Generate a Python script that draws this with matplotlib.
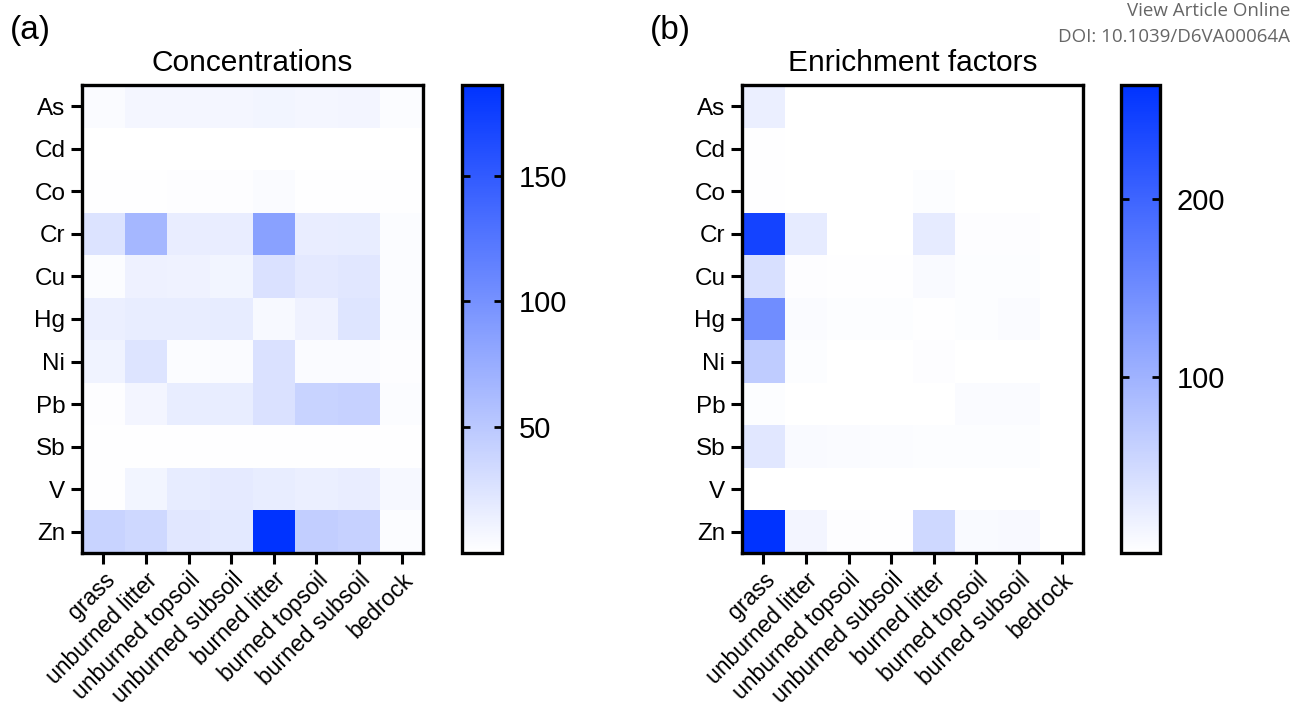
import numpy as np
import matplotlib
matplotlib.use("Agg")
import matplotlib.pyplot as plt
from matplotlib.colors import LinearSegmentedColormap

plt.rcParams['font.family'] = ['Liberation Sans', 'DejaVu Sans']

elements = ["As", "Cd", "Co", "Cr", "Cu", "Hg", "Ni", "Pb", "Sb", "V", "Zn"]
compartments = ["grass", "unburned litter", "unburned topsoil", "unburned subsoil",
                "burned litter", "burned topsoil", "burned subsoil", "bedrock"]

# rows follow `elements`, columns follow `compartments`
concentrations = [
    [4, 8, 8, 8, 10, 8, 9, 3],
    [0.5, 0.5, 0.5, 0.5, 0.5, 0.5, 0.5, 0.5],
    [1, 1, 2, 2, 4, 1, 1, 1],
    [26, 66, 16, 16, 86, 16, 17, 3],
    [3, 13, 12, 10, 27, 20, 22, 3],
    [15, 17, 17, 18, 6, 12, 24, 3],
    [11, 25, 3, 4, 27, 4, 4, 2],
    [2, 9, 17, 17, 27, 40, 42, 3],
    [1, 1, 1, 1, 1, 1, 1, 1],
    [1, 10, 18, 19, 17, 15, 16, 7],
    [40, 36, 22, 21, 186, 45, 42, 3],
]

enrichment = [
    [22, 1, 1, 1, 1, 1, 1, 1],
    [3, 1, 1, 1, 1, 1, 1, 1],
    [3, 1, 1, 1, 5, 1, 1, 1],
    [243, 27, 2, 2, 27, 4, 4, 1],
    [42, 4, 3, 3, 8, 5, 5, 1],
    [148, 7, 5, 5, 3, 5, 7, 1],
    [67, 5, 1, 2, 4, 1, 1, 1],
    [5, 2, 2, 2, 2, 7, 7, 1],
    [32, 8, 7, 6, 5, 5, 5, 1],
    [1, 1, 1, 1, 1, 1, 1, 1],
    [264, 14, 4, 3, 52, 8, 9, 1],
]

conc_ticks = [50, 100, 150]
ef_ticks = [100, 200]

cmap = LinearSegmentedColormap.from_list("white_blue", ["#ffffff", "#0033ff"])

W, H = 1295, 713
fig = plt.figure(figsize=(W / 100, H / 100), dpi=100)


def box(x0, y0, x1, y1):
    return [x0 / W, 1 - y1 / H, (x1 - x0) / W, (y1 - y0) / H]


def panel(ax_box, cb_box, data, vmin, ticks, title, tag, tag_x):
    ax = fig.add_axes(box(*ax_box))
    arr = np.array(data, dtype=float)
    mesh = ax.pcolormesh(np.arange(len(compartments) + 1), np.arange(len(elements) + 1),
                         arr, cmap=cmap, vmin=vmin, vmax=arr.max(), shading="flat")
    ax.set_xlim(0, len(compartments))
    ax.set_ylim(len(elements), 0)
    ax.set_xticks(np.arange(len(compartments)) + 0.5)
    ax.set_yticks(np.arange(len(elements)) + 0.5)
    ax.set_xticklabels(compartments, rotation=45, ha="right", va="top",
                       rotation_mode="anchor", fontsize=16.5)
    ax.set_yticklabels(elements, fontsize=17.5)
    ax.tick_params(direction="out", length=8, width=2.2, pad=4)
    ax.tick_params(axis="x", pad=3)
    for s in ax.spines.values():
        s.set_linewidth(2.4)
    ax.set_title(title, fontsize=21.5, pad=10)
    fig.text(tag_x / W, 1 - 30 / H, tag, fontsize=24, ha="left", va="center")

    cax = fig.add_axes(box(*cb_box))
    cb = fig.colorbar(mesh, cax=cax)
    cb.set_ticks(ticks)
    cb.outline.set_linewidth(2.4)
    cax.tick_params(axis="y", which="both", direction="in", length=6, width=2,
                    left=True, right=True, labelsize=21, pad=12)
    cax.minorticks_off()
    return ax


panel((82, 85, 423, 553), (462, 85, 502, 553), concentrations, 0, conc_ticks,
      "Concentrations", "(a)", 10)
panel((742, 85, 1083, 553), (1121, 85, 1160, 553), enrichment, 1, ef_ticks,
      "Enrichment factors", "(b)", 650)

fig.text(1290 / W, 1 - 11 / H, "View Article Online", fontsize=13.5, color="#666666",
         ha="right", va="center", family=["Open Sans", "DejaVu Sans"])
fig.text(1290 / W, 1 - 37 / H, "DOI: 10.1039/D6VA00064A", fontsize=13.5, color="#666666",
         ha="right", va="center", family=["Open Sans", "DejaVu Sans"])

fig.savefig("out.png", dpi=100)
